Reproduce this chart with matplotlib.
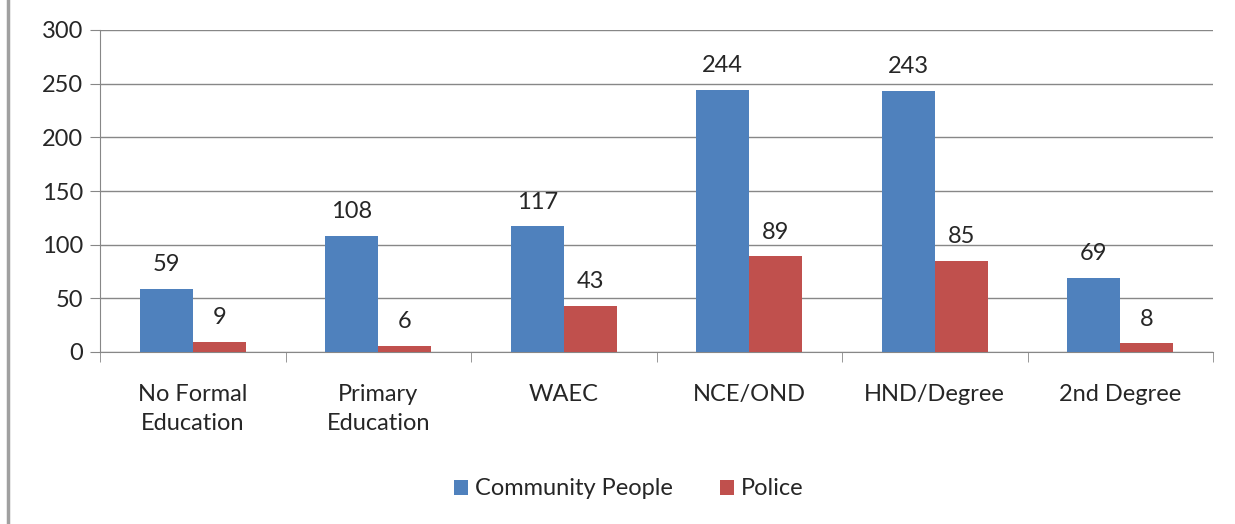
import numpy as np
import matplotlib
matplotlib.use("Agg")
import matplotlib.pyplot as plt
from matplotlib.lines import Line2D

categories = ["No Formal\nEducation", "Primary\nEducation", "WAEC", "NCE/OND", "HND/Degree", "2nd Degree"]
community = [59, 108, 117, 244, 243, 69]
police = [9, 6, 43, 89, 85, 8]
series_names = ["Community People", "Police"]

plt.rcParams['font.family'] = ['Lato', 'DejaVu Sans']
FS = 17

fig = plt.figure(figsize=(12.35, 5.24), dpi=100)
ax = fig.add_axes([100 / 1235, 1 - 352 / 524, 1113 / 1235, 322 / 524])

x = np.arange(len(categories))
w = 1 / 3.5
blue, red = "#4F81BD", "#C0504D"
b1 = ax.bar(x - w / 2, community, w, color=blue, label=series_names[0], zorder=3)
b2 = ax.bar(x + w / 2, police, w, color=red, label=series_names[1], zorder=3)

for bars, vals in ((b1, community), (b2, police)):
    for r, v in zip(bars, vals):
        ax.annotate(str(v), (r.get_x() + r.get_width() / 2, v), xytext=(0, 10),
                    textcoords="offset points", ha="center", va="bottom",
                    fontsize=FS, color="#262626")

ax.set_xlim(-0.5, len(categories) - 0.5)
ax.set_ylim(0, 300)
ax.set_yticks(range(0, 301, 50))
ax.yaxis.grid(True, color="#878787", linewidth=1, zorder=0)
ax.set_xticks(x)
ax.set_xticklabels(categories, fontsize=FS, color="#262626", linespacing=1.45)
ax.tick_params(axis="x", length=0, pad=23)
ax.set_xticks(np.arange(-0.5, len(categories)), minor=True)
ax.tick_params(axis="x", which="minor", length=7, color="#878787")
ax.tick_params(axis="y", length=7, color="#878787", labelsize=FS, labelcolor="#262626", pad=5)
for s in ("top", "right"):
    ax.spines[s].set_visible(False)
for s in ("left", "bottom"):
    ax.spines[s].set_color("#878787")

ax.legend(loc="center", bbox_to_anchor=(0.475, -0.425), ncol=2, frameon=False,
          fontsize=FS, handlelength=0.6, handleheight=0.6, columnspacing=2.0,
          handletextpad=0.3, labelcolor="#262626")

fig.add_artist(Line2D([8 / 1235, 8 / 1235], [0, 1], color="#A0A0A0", linewidth=2.5,
                      transform=fig.transFigure))

fig.savefig("out.png", dpi=100)
